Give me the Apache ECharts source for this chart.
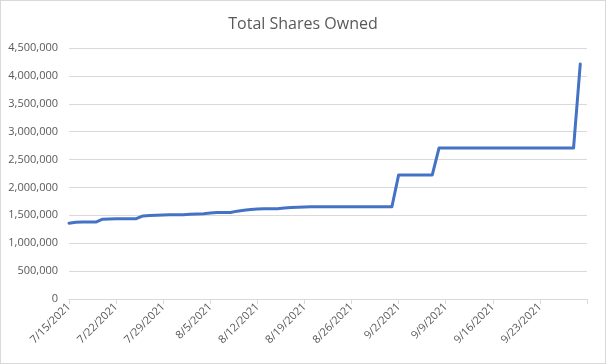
<!DOCTYPE html>
<html>
<head>
<meta charset="utf-8">
<script src="https://cdn.jsdelivr.net/npm/echarts@6/dist/echarts.min.js"></script>
<style>
  html, body { margin: 0; padding: 0; background: #fff; }
  #wrap { position: relative; width: 606px; height: 364px; }
  #chart { width: 606px; height: 364px; }
  #frame { position: absolute; left: 0; top: 0; width: 606px; height: 364px; box-sizing: border-box; border: 1px solid #d9d9d9; pointer-events: none; }
</style>
</head>
<body>
<div id="wrap"><div id="chart"></div><div id="frame"></div></div>
<script>
const chartTitle = 'Total Shares Owned';

const dates = [
  '7/15/2021','7/16/2021','7/17/2021','7/18/2021','7/19/2021','7/20/2021','7/21/2021',
  '7/22/2021','7/23/2021','7/24/2021','7/25/2021','7/26/2021','7/27/2021','7/28/2021',
  '7/29/2021','7/30/2021','7/31/2021','8/1/2021','8/2/2021','8/3/2021','8/4/2021',
  '8/5/2021','8/6/2021','8/7/2021','8/8/2021','8/9/2021','8/10/2021','8/11/2021',
  '8/12/2021','8/13/2021','8/14/2021','8/15/2021','8/16/2021','8/17/2021','8/18/2021',
  '8/19/2021','8/20/2021','8/21/2021','8/22/2021','8/23/2021','8/24/2021','8/25/2021',
  '8/26/2021','8/27/2021','8/28/2021','8/29/2021','8/30/2021','8/31/2021','9/1/2021',
  '9/2/2021','9/3/2021','9/4/2021','9/5/2021','9/6/2021','9/7/2021','9/8/2021',
  '9/9/2021','9/10/2021','9/11/2021','9/12/2021','9/13/2021','9/14/2021','9/15/2021',
  '9/16/2021','9/17/2021','9/18/2021','9/19/2021','9/20/2021','9/21/2021','9/22/2021',
  '9/23/2021','9/24/2021','9/25/2021','9/26/2021','9/27/2021','9/28/2021','9/29/2021',
  '9/30/2021'
];

const sharesOwned = [
  1360000, 1375000, 1380000, 1380000, 1380000, 1430000, 1435000,
  1440000, 1440000, 1440000, 1440000, 1490000, 1495000, 1500000,
  1505000, 1510000, 1510000, 1510000, 1520000, 1525000, 1530000,
  1540000, 1550000, 1550000, 1550000, 1575000, 1590000, 1605000,
  1615000, 1620000, 1620000, 1620000, 1630000, 1640000, 1645000,
  1650000, 1655000, 1655000, 1655000, 1655000, 1655000, 1655000,
  1655000, 1655000, 1655000, 1655000, 1655000, 1655000, 1655000,
  2225000, 2225000, 2225000, 2225000, 2225000, 2225000, 2705000,
  2705000, 2705000, 2705000, 2705000, 2705000, 2705000, 2705000,
  2705000, 2705000, 2705000, 2705000, 2705000, 2705000, 2705000,
  2705000, 2705000, 2705000, 2705000, 2705000, 2705000, 4215000,
  null
];

const yTicks = [0, 500000, 1000000, 1500000, 2000000, 2500000, 3000000, 3500000, 4000000, 4500000];

const chart = echarts.init(document.getElementById('chart'), null, { renderer: 'canvas' });
const fontFamily = '"Open Sans", "Liberation Sans", sans-serif';
chart.setOption({
  animation: false,
  title: {
    text: chartTitle,
    left: 'center',
    top: 11,
    textStyle: { color: '#595959', fontSize: 16, fontWeight: 'normal', fontFamily: fontFamily }
  },
  grid: { left: 69, right: 19, top: 48, bottom: 65, containLabel: false },
  xAxis: {
    type: 'category',
    data: dates,
    boundaryGap: false,
    axisLine: { lineStyle: { color: '#d9d9d9', width: 1 } },
    axisTick: { show: true, length: 5, lineStyle: { color: '#d9d9d9' }, interval: (i) => i % 7 === 0 },
    axisLabel: {
      rotate: 45,
      margin: 6,
      color: '#595959',
      fontSize: 11,
      fontFamily: fontFamily,
      interval: (i) => i % 7 === 0 && i < dates.length - 1
    },
    splitLine: { show: false }
  },
  yAxis: {
    type: 'value',
    min: yTicks[0],
    max: yTicks[yTicks.length - 1],
    interval: yTicks[1] - yTicks[0],
    axisLine: { show: false },
    axisTick: { show: false },
    axisLabel: {
      margin: 11,
      color: '#595959',
      fontSize: 11,
      fontFamily: fontFamily,
      formatter: (v) => v.toLocaleString('en-US')
    },
    splitLine: { lineStyle: { color: '#d9d9d9', width: 1 } }
  },
  series: [{
    type: 'line',
    data: sharesOwned,
    showSymbol: false,
    symbol: 'none',
    connectNulls: false,
    lineStyle: { color: '#4472c4', width: 3, cap: 'round', join: 'round' }
  }]
});
</script>
</body>
</html>
